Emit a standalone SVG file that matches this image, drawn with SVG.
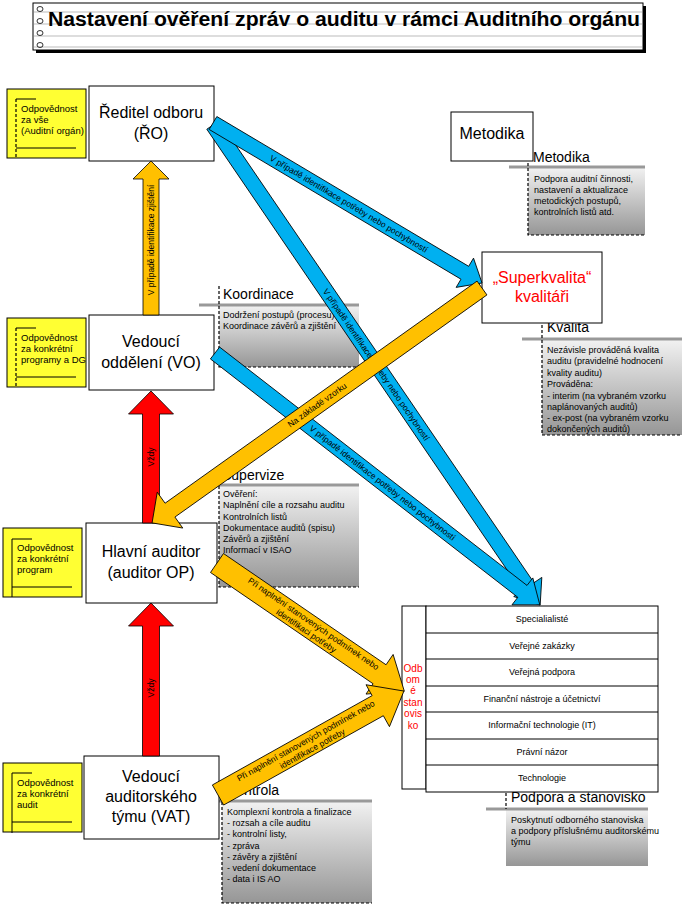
<svg xmlns="http://www.w3.org/2000/svg" width="687" height="906" viewBox="0 0 687 906">
<defs>
<linearGradient id="gr" x1="0" y1="0" x2="0" y2="1">
<stop offset="0" stop-color="#F2F2F2"/>
<stop offset="1" stop-color="#969696"/>
</linearGradient>
<style>
text{font-family:"Liberation Sans",Arial,sans-serif;fill:#000}
.box{fill:#fff;stroke:#000;stroke-width:1}
.nl{font-size:16px;text-anchor:middle}
.yel{fill:#FFFF33;stroke:#000;stroke-width:1}
.yt{font-size:9.5px}
.ln{stroke:#000;stroke-width:1;fill:none}
.dl{stroke:#000;stroke-width:1.2;stroke-dasharray:3 2;fill:none}
.gl{stroke:#999;stroke-width:3}
.nb{fill:url(#gr)}
.ntit{font-size:14px}
.ntx{font-size:9px}
.tab{font-size:9px;text-anchor:middle}
.blue{fill:#00B0F0;stroke:#000;stroke-width:0.8}
.orange{fill:#FFC000;stroke:#000;stroke-width:0.8}
.red{fill:#FF0000;stroke:#000;stroke-width:0.8}
.al{font-size:8.5px;text-anchor:middle}
.tl{stroke:#bbb;stroke-width:1}
</style>
</defs>
<rect width="687" height="906" fill="#fff"/>

<g id="title">
<rect x="36" y="6" width="610" height="47" fill="#000"/>
<rect x="33" y="3" width="610" height="47" fill="#fff" stroke="#000"/>
<line class="tl" x1="34" y1="12" x2="642" y2="12"/>
<line class="tl" x1="34" y1="24" x2="642" y2="24"/>
<line class="tl" x1="34" y1="36" x2="642" y2="36"/>
<line class="tl" x1="34" y1="47" x2="642" y2="47"/>
<g fill="none" stroke="#000" stroke-width="0.8">
<ellipse cx="40" cy="9" rx="3" ry="2.5"/><ellipse cx="40" cy="21" rx="3" ry="2.5"/><ellipse cx="40" cy="33" rx="3" ry="2.5"/><ellipse cx="40" cy="45" rx="3" ry="2.5"/>
</g>
<text x="48" y="26" font-size="20" font-weight="bold" textLength="592" lengthAdjust="spacingAndGlyphs">Nastavení ověření zpráv o auditu v rámci Auditního orgánu</text>
</g>

<g id="note-metodika">
<rect class="nb" x="528" y="167" width="117" height="68"/>
<line class="gl" x1="509" y1="167" x2="645" y2="167"/>
<path class="dl" d="M528,148 V235 H645"/>
<text class="ntit" x="533" y="162">Metodika</text>
<text class="ntx" x="534" y="182">Podpora auditní činnosti,</text>
<text class="ntx" x="534" y="193">nastavení a aktualizace</text>
<text class="ntx" x="534" y="204">metodických postupů,</text>
<text class="ntx" x="534" y="215">kontrolních listů atd.</text>
</g>

<g id="note-kvalita">
<rect class="nb" x="542" y="339" width="140" height="96"/>
<line class="gl" x1="522" y1="339" x2="682" y2="339"/>
<path class="dl" d="M542,320 V435 H682"/>
<text class="ntit" x="547" y="332">Kvalita</text>
<text class="ntx" x="547" y="353">Nezávisle prováděná kvalita</text>
<text class="ntx" x="547" y="364">auditu (pravidelné hodnocení</text>
<text class="ntx" x="547" y="376">kvality auditu)</text>
<text class="ntx" x="547" y="387">Prováděna:</text>
<text class="ntx" x="547" y="399">- interim (na vybraném vzorku</text>
<text class="ntx" x="547" y="410">naplánovaných auditů)</text>
<text class="ntx" x="547" y="421">- ex-post (na vybraném vzorku</text>
<text class="ntx" x="547" y="432">dokončených auditů)</text>
</g>

<g id="note-koordinace">
<rect class="nb" x="219" y="305" width="140" height="62"/>
<line class="gl" x1="199" y1="305" x2="359" y2="305"/>
<path class="dl" d="M219,286 V367 H359"/>
<text class="ntit" x="223" y="299">Koordinace</text>
<text class="ntx" x="223" y="318">Dodržení postupů (procesu)</text>
<text class="ntx" x="223" y="329">Koordinace závěrů a zjištění</text>
</g>

<g id="note-supervize">
<rect class="nb" x="219" y="485" width="140" height="102"/>
<line class="gl" x1="199" y1="485" x2="359" y2="485"/>
<path class="dl" d="M219,466 V587 H359"/>
<text class="ntit" x="222" y="480">Supervize</text>
<text class="ntx" x="223" y="497">Ověření:</text>
<text class="ntx" x="223" y="508">Naplnění cíle a rozsahu auditu</text>
<text class="ntx" x="223" y="520">Kontrolních listů</text>
<text class="ntx" x="223" y="531">Dokumentace auditů (spisu)</text>
<text class="ntx" x="223" y="542">Závěrů a zjištění</text>
<text class="ntx" x="223" y="553">Informací v ISAO</text>
</g>

<g id="note-kontrola">
<rect class="nb" x="222" y="801" width="150" height="102"/>
<line class="gl" x1="202" y1="801" x2="372" y2="801"/>
<path class="dl" d="M222,782 V903 H372"/>
<text class="ntit" x="227" y="795">Kontrola</text>
<text class="ntx" x="227" y="815">Komplexní kontrola a finalizace</text>
<text class="ntx" x="227" y="826">- rozsah a cíle auditu</text>
<text class="ntx" x="227" y="837">- kontrolní listy,</text>
<text class="ntx" x="227" y="849">- zpráva</text>
<text class="ntx" x="227" y="860">- závěry a zjištění</text>
<text class="ntx" x="227" y="871">- vedení dokumentace</text>
<text class="ntx" x="227" y="882">- data i IS AO</text>
</g>

<g id="note-podpora">
<rect class="nb" x="506" y="809" width="142" height="57"/>
<line class="gl" x1="486" y1="809" x2="648" y2="809"/>
<path class="dl" d="M506,793 V809"/>
<text class="ntit" x="511" y="802">Podpora a stanovisko</text>
<text class="ntx" x="511" y="823">Poskytnutí odborného stanoviska</text>
<text class="ntx" x="511" y="834">a podpory příslušnému auditorskému</text>
<text class="ntx" x="511" y="845">týmu</text>
</g>

<g id="yellow-ao">
<rect class="yel" x="7" y="89" width="79" height="69"/>
<path class="ln" d="M36,99 H16"/><path class="dl" d="M16,99 V159"/><path class="ln" d="M16,148 H76"/>
<text class="yt" x="21" y="112">Odpovědnost</text>
<text class="yt" x="21" y="123">za vše</text>
<text class="yt" x="21" y="134">(Auditní orgán)</text>
</g>
<g id="yellow-dg">
<rect class="yel" x="7" y="318" width="79" height="69"/>
<path class="ln" d="M36,328 H16"/><path class="dl" d="M16,328 V388"/><path class="ln" d="M16,377 H76"/>
<text class="yt" x="21" y="341">Odpovědnost</text>
<text class="yt" x="21" y="352">za konkrétní</text>
<text class="yt" x="21" y="363">programy a DG</text>
</g>
<g id="yellow-program">
<rect class="yel" x="3" y="528" width="79" height="69"/>
<path class="ln" d="M32,539 H12 V597"/><path class="ln" d="M12,587 H72"/>
<text class="yt" x="17" y="551">Odpovědnost</text>
<text class="yt" x="17" y="562">za konkrétní</text>
<text class="yt" x="17" y="573">program</text>
</g>
<g id="yellow-audit">
<rect class="yel" x="3" y="763" width="79" height="69"/>
<path class="ln" d="M32,773 H12 V833"/><path class="ln" d="M12,822 H72"/>
<text class="yt" x="17" y="786">Odpovědnost</text>
<text class="yt" x="17" y="797">za konkrétní</text>
<text class="yt" x="17" y="808">audit</text>
</g>

<g id="node-ro">
<rect class="box" x="89" y="86" width="125" height="75"/>
<text class="nl" x="151" y="118">Ředitel odboru</text>
<text class="nl" x="151" y="139">(ŘO)</text>
</g>
<g id="node-metodika">
<rect class="box" x="451" y="112" width="82" height="49"/>
<text class="nl" x="492" y="139">Metodika</text>
</g>
<g id="node-superkvalita">
<rect class="box" x="482" y="252" width="120" height="71"/>
<text class="nl" x="542" y="283" fill="#FF0000" style="fill:#FF0000">„Superkvalita“</text>
<text class="nl" x="542" y="302" style="fill:#FF0000">kvalitáři</text>
</g>
<g id="node-vo">
<rect class="box" x="89" y="315" width="125" height="75"/>
<text class="nl" x="151" y="347">Vedoucí</text>
<text class="nl" x="151" y="368">oddělení (VO)</text>
</g>
<g id="node-ha">
<rect class="box" x="86" y="523" width="131" height="80"/>
<text class="nl" x="151" y="557">Hlavní auditor</text>
<text class="nl" x="151" y="578">(auditor OP)</text>
</g>
<g id="node-vat">
<rect class="box" x="84" y="756" width="135" height="83"/>
<text class="nl" x="151" y="782">Vedoucí</text>
<text class="nl" x="151" y="802">auditorského</text>
<text class="nl" x="151" y="822">týmu (VAT)</text>
</g>

<g id="node-experts">
<rect class="box" x="402" y="606" width="24" height="183"/>
<g style="fill:#FF0000">
<text class="tab" x="413" y="672" style="fill:#FF0000;font-size:10px">Odb</text>
<text class="tab" x="413" y="683" style="fill:#FF0000;font-size:10px">om</text>
<text class="tab" x="413" y="694" style="fill:#FF0000;font-size:10px">é</text>
<text class="tab" x="413" y="706" style="fill:#FF0000;font-size:10px">stan</text>
<text class="tab" x="413" y="717" style="fill:#FF0000;font-size:10px">ovis</text>
<text class="tab" x="413" y="729" style="fill:#FF0000;font-size:10px">ko</text>
</g>
<rect class="box" x="426" y="606" width="232" height="186"/>
<g class="ln">
<line x1="426" y1="633" x2="658" y2="633"/>
<line x1="426" y1="659" x2="658" y2="659"/>
<line x1="426" y1="686" x2="658" y2="686"/>
<line x1="426" y1="712" x2="658" y2="712"/>
<line x1="426" y1="739" x2="658" y2="739"/>
<line x1="426" y1="765" x2="658" y2="765"/>
</g>
<text class="tab" x="542" y="622">Specialialisté</text>
<text class="tab" x="542" y="649">Veřejné zakázky</text>
<text class="tab" x="542" y="675">Veřejná podpora</text>
<text class="tab" x="542" y="702">Finanční nástroje a účetnictví</text>
<text class="tab" x="542" y="728">Informační technologie (IT)</text>
<text class="tab" x="542" y="755">Právní názor</text>
<text class="tab" x="542" y="781">Technologie</text>
</g>

<g id="connectors">
<g transform="translate(213,125) rotate(55.73)">
<polygon class="blue" points="0,-7.5 559,-7.5 559,-17 581,0 559,17 559,7.5 0,7.5"/>
<text class="al" x="290" y="3">V případě identifikace potřeby nebo pochybností</text>
</g>
<g transform="translate(215,353) rotate(37.79)">
<polygon class="blue" points="0,-7.5 389,-7.5 389,-17 411,0 389,17 389,7.5 0,7.5"/>
<text class="al" x="212" y="3">V případě identifikace potřeby nebo pochybností</text>
</g>
<g transform="translate(213,123) rotate(30.74)">
<polygon class="blue" points="0,-7.5 293,-7.5 293,-17 313,0 293,17 293,7.5 0,7.5"/>
<text class="al" x="158" y="3">V případě identifikace potřeby nebo pochybností</text>
</g>
<g transform="translate(151,315) rotate(-90)">
<polygon class="orange" points="0,-8 136,-8 136,-18 154,0 136,18 136,8 0,8"/>
<text class="al" x="75" y="3">V případě identifikace zjištění</text>
</g>
<g transform="translate(151,523) rotate(-90)">
<polygon class="red" points="0,-8.5 109,-8.5 109,-22.5 132,0 109,22.5 109,8.5 0,8.5"/>
<text class="al" x="66" y="3">Vždy</text>
</g>
<g transform="translate(151,756) rotate(-90)">
<polygon class="red" points="0,-8.5 130,-8.5 130,-22.5 153,0 130,22.5 130,8.5 0,8.5"/>
<text class="al" x="68" y="3">Vždy</text>
</g>
<polygon class="orange" transform="translate(482,288) rotate(144.55)" points="0,-8.5 383,-8.5 383,-22 405,0 383,22 383,8.5 0,8.5"/>
<text class="al" transform="translate(317,405) rotate(-35.45)" y="3">Na základě vzorku</text>
<g transform="translate(217,563) rotate(34.39)">
<polygon class="orange" points="0,-11.5 197,-11.5 197,-24 227,0 197,24 197,11.5 0,11.5"/>
<text class="al" x="114" y="-1.5">Při naplnění stanovených podmínek nebo</text>
<text class="al" x="112" y="8.5">identifikaci potřeby</text>
</g>
<g transform="translate(218,795) rotate(-29.21)">
<polygon class="orange" points="0,-11.5 183,-11.5 183,-24 213,0 183,24 183,11.5 0,11.5"/>
<text class="al" x="103" y="-1.5">Při naplnění stanovených podmínek nebo</text>
<text class="al" x="105" y="8.5">identifikace potřeby</text>
</g>
</g>
</svg>
